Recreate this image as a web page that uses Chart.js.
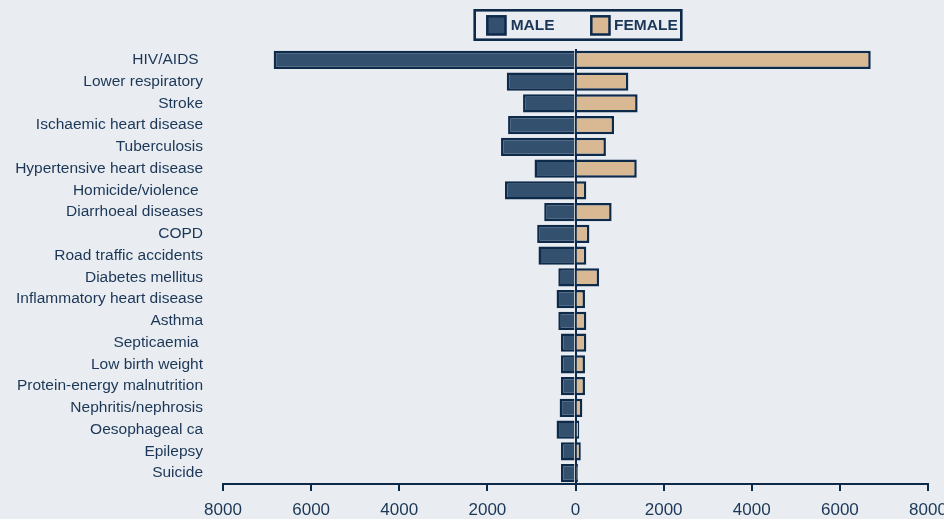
<!DOCTYPE html>
<html>
<head>
<meta charset="utf-8">
<script src="https://cdn.jsdelivr.net/npm/chart.js@4.4.1/dist/chart.umd.min.js"></script>
<style>
  html, body { margin: 0; padding: 0; background: #E9EDF1; overflow: hidden; }
  #wrap { width: 950px; height: 519px; position: relative; }
</style>
</head>
<body>
<div id="wrap"><canvas id="c" width="950" height="519"></canvas></div>
<script>
const categories = ["HIV/AIDS ", "Lower respiratory", "Stroke", "Ischaemic heart disease", "Tuberculosis",
  "Hypertensive heart disease", "Homicide/violence ", "Diarrhoeal diseases", "COPD", "Road traffic accidents",
  "Diabetes mellitus", "Inflammatory heart disease", "Asthma", "Septicaemia ", "Low birth weight",
  "Protein-energy malnutrition", "Nephritis/nephrosis", "Oesophageal ca", "Epilepsy", "Suicide"];
const maleDeaths = [6850, 1560, 1190, 1530, 1690, 930, 1600, 710, 870, 840, 390, 430, 390, 330, 330, 330, 360, 430, 330, 330];
const femaleDeaths = [6700, 1200, 1410, 875, 690, 1390, 245, 820, 315, 245, 535, 215, 245, 245, 215, 215, 155, 85, 120, 55];
const seriesNames = ["MALE", "FEMALE"];
const axisMin = -8000, axisMax = 8000, axisStep = 2000;

const NAVY = "#0E2A4B";
const TEXT = "#1B3656";
const MALE_FILL = "#33516E";
const FEMALE_FILL = "#D8B993";
const FONT = "'Liberation Sans', Arial, sans-serif";

const legendBox = {
  id: "legendBox",
  afterDraw(chart) {
    const ctx = chart.ctx;
    const ca = chart.chartArea;
    const cx = (ca.left + ca.right) / 2;
    ctx.save();
    ctx.lineWidth = 2.6;
    ctx.strokeStyle = NAVY;
    ctx.strokeRect(cx - 100.8, 10.3, 206.6, 29.4);
    const offs = [[-88.2, -64.8], [15.8, 38.5]];
    chart.data.datasets.forEach((ds, i) => {
      const sx = cx + offs[i][0];
      ctx.fillStyle = ds.backgroundColor;
      ctx.fillRect(sx, 16.3, 18.2, 18.2);
      ctx.lineWidth = 2.5;
      ctx.strokeStyle = NAVY;
      ctx.strokeRect(sx, 16.3, 18.2, 18.2);
      ctx.fillStyle = TEXT;
      ctx.font = "bold 15.5px " + FONT;
      ctx.textBaseline = "middle";
      ctx.textAlign = "left";
      ctx.fillText(ds.label, cx + offs[i][1], 25.5);
    });
    ctx.restore();
  }
};

new Chart(document.getElementById("c"), {
  type: "bar",
  data: {
    labels: categories,
    datasets: [
      { label: seriesNames[0], data: maleDeaths.map(v => -v), backgroundColor: MALE_FILL,
        borderColor: NAVY, borderWidth: { top: 2.5, bottom: 2.5, left: 2.5, right: 0 }, borderSkipped: false },
      { label: seriesNames[1], data: femaleDeaths, backgroundColor: FEMALE_FILL,
        borderColor: NAVY, borderWidth: { top: 2.5, bottom: 2.5, left: 0, right: 2.5 }, borderSkipped: false }
    ]
  },
  options: {
    indexAxis: "y",
    responsive: false,
    animation: false,
    devicePixelRatio: 1,
    layout: { padding: { top: 49, right: 22, left: 0, bottom: 0 } },
    datasets: { bar: { barPercentage: 0.85, categoryPercentage: 1 } },
    plugins: { legend: { display: false }, tooltip: { enabled: false } },
    scales: {
      x: {
        type: "linear",
        stacked: true,
        min: axisMin, max: axisMax,
        position: "bottom",
        afterFit(s) { s.height = 35; s.paddingRight = 0; s.paddingLeft = 0; },
        afterBuildTicks(s) {
          const t = [];
          for (let v = axisMin; v <= axisMax; v += axisStep) t.push({ value: v });
          s.ticks = t;
        },
        ticks: {
          stepSize: axisStep,
          padding: 9,
          color: TEXT,
          maxRotation: 0,
          autoSkip: false,
          font: { family: FONT, size: 17 },
          callback: v => String(Math.abs(v))
        },
        grid: {
          drawOnChartArea: true,
          drawTicks: true,
          tickLength: 7,
          lineWidth: 2,
          color: c => (c.tick && c.tick.value === 0 ? NAVY : "rgba(0,0,0,0)"),
          tickColor: NAVY,
          tickWidth: 2
        },
        border: { display: true, color: NAVY, width: 2 }
      },
      y: {
        stacked: true,
        position: "left",
        afterFit(s) { s.width = 223; },
        grid: { display: false, drawTicks: false },
        border: { display: false },
        ticks: {
          padding: 20,
          color: TEXT,
          autoSkip: false,
          font: { family: FONT, size: 15.5 }
        }
      }
    }
  },
  plugins: [legendBox]
});
</script>
</body>
</html>
